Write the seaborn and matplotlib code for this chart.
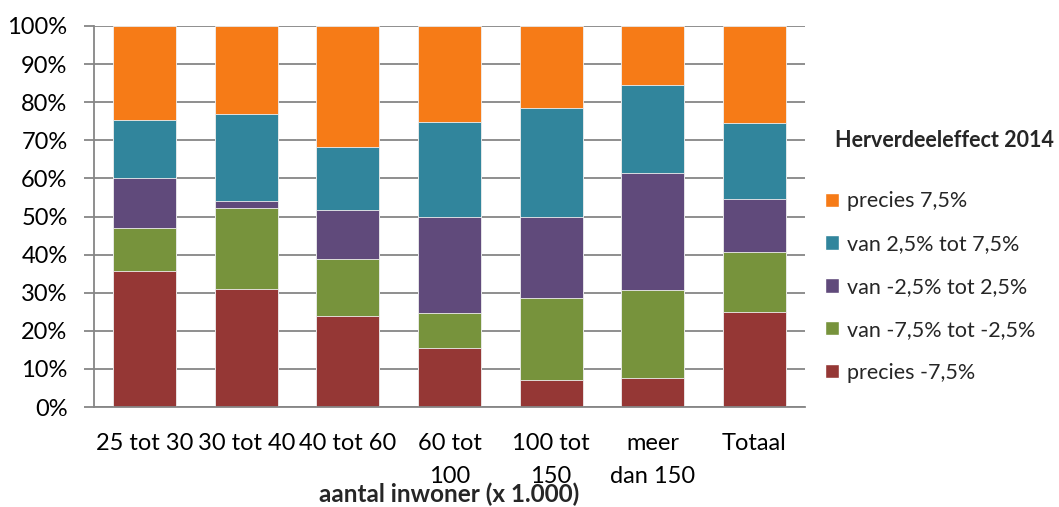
import numpy as np
import pandas as pd
import matplotlib
matplotlib.use("Agg")
import matplotlib.pyplot as plt
import seaborn as sns
from matplotlib.patches import Patch

categories = ["25 tot 30", "30 tot 40", "40 tot 60", "60 tot\n100", "100 tot\n150",
              "meer\ndan 150", "Totaal"]

# share per class (%), bottom to top
precies_min75 = [35.7, 31.1, 24.0, 15.6, 7.1, 7.6, 25.0]
van_min75_min25 = [11.4, 21.0, 14.8, 9.2, 21.4, 23.0, 15.6]
van_min25_25 = [13.0, 2.0, 13.0, 25.1, 21.4, 30.9, 14.0]
van_25_75 = [15.2, 22.8, 16.5, 24.9, 28.6, 23.0, 20.0]
precies_75 = [24.7, 23.1, 31.7, 25.2, 21.5, 15.5, 25.4]

series_names = ["precies -7,5%", "van -7,5% tot -2,5%", "van -2,5% tot 2,5%",
                "van 2,5% tot 7,5%", "precies 7,5%"]
colors = ["#953735", "#77933C", "#604A7B", "#31859C", "#F67B17"]

sns.set_theme(style="white")
plt.rcParams["font.family"] = ["Lato", "DejaVu Sans"]

values = np.array([precies_min75, van_min75_min25, van_min25_25, van_25_75, precies_75])
cum = np.cumsum(values, axis=0)

fig = plt.figure(figsize=(10.59, 5.07), dpi=100)
ax = fig.add_axes([94 / 1059, 1 - 407 / 507, 711 / 1059, 381 / 507])

# stacked look: draw cumulative totals from the top series down
for i in range(len(series_names) - 1, -1, -1):
    df = pd.DataFrame({"cat": categories, "val": cum[i]})
    sns.barplot(data=df, x="cat", y="val", order=categories, color=colors[i],
                saturation=1, width=0.62, edgecolor="#f0f0f0", linewidth=0.6, ax=ax)

ax.set_xlim(-0.5, 6.5)
ax.set_ylim(0, 100)
ax.set_yticks(np.arange(0, 101, 10))
ax.set_yticklabels([f"{v}%" for v in range(0, 101, 10)], fontsize=17, color="black")
ax.set_xticks(range(len(categories)))
ax.set_xticklabels(categories, fontsize=17, color="black", linespacing=1.7, va="top")
ax.tick_params(axis="y", length=7, width=1.3, color="#868686", pad=12, left=True)
ax.tick_params(axis="x", length=0, pad=19)
ax.yaxis.grid(True, color="#868686", linewidth=1.3)
ax.set_axisbelow(True)
for s in ["top", "right"]:
    ax.spines[s].set_visible(False)
for s in ["left", "bottom"]:
    ax.spines[s].set_color("#868686")
    ax.spines[s].set_linewidth(1.3)

ax.set_ylabel("")
ax.set_xlabel("aantal inwoner (x 1.000)", fontsize=17.5, fontweight="bold")
ax.xaxis.set_label_coords(0.5, (407 - 494) / 381)
ax.xaxis.label.set_va("center")

fig.text(835 / 1059, 1 - 140 / 507, "Herverdeeleffect 2014", fontsize=15.5,
         fontweight="bold", va="center", ha="left")
handles = [Patch(facecolor=colors[i]) for i in range(len(series_names) - 1, -1, -1)]
labels = series_names[::-1]
fig.legend(handles, labels, loc="upper left", bbox_to_anchor=(806 / 1059, 1 - 172 / 507),
           frameon=False, fontsize=15.5, handlelength=0.65, handleheight=0.65,
           handletextpad=0.35, labelspacing=1.06)

fig.savefig("out.png", dpi=100)
